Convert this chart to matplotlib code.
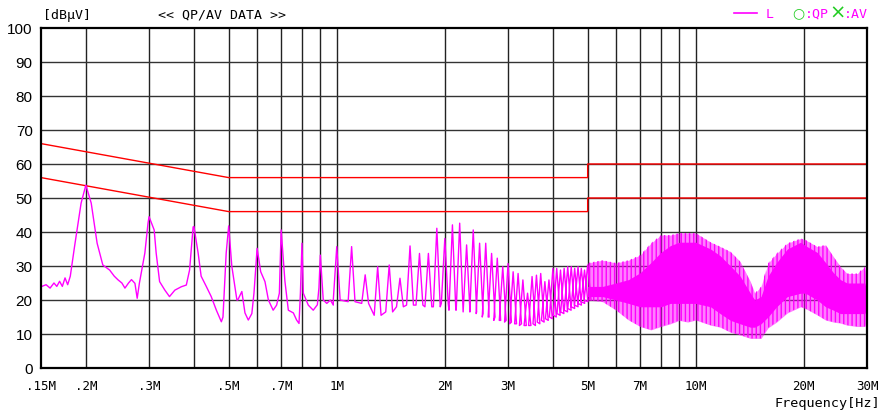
import matplotlib
matplotlib.use("Agg")
import numpy as np
import matplotlib.pyplot as plt
from matplotlib.lines import Line2D


# --- L trace below 1 MHz (MHz, dBuV) ---
lf_freq = [0.150, 0.155, 0.159, 0.163, 0.166, 0.169, 0.172, 0.175, 0.178, 0.181,
           0.186, 0.194, 0.200, 0.207, 0.215, 0.223, 0.233, 0.240, 0.246, 0.252,
           0.257, 0.263, 0.268, 0.274, 0.278, 0.282, 0.292, 0.298, 0.300, 0.310,
           0.314, 0.321, 0.332, 0.342, 0.354, 0.369, 0.381, 0.389, 0.398, 0.400,
           0.411, 0.419, 0.433, 0.447, 0.462, 0.477, 0.482, 0.492, 0.500, 0.510,
           0.520, 0.527, 0.530, 0.544, 0.555, 0.567, 0.580, 0.588, 0.600, 0.614,
           0.631, 0.645, 0.665, 0.680, 0.692, 0.700, 0.717, 0.733, 0.757, 0.773,
           0.785, 0.792, 0.800, 0.807, 0.833, 0.860, 0.883, 0.892, 0.900, 0.917,
           0.938, 0.960, 0.978]
lf_level = [23.9, 24.5, 23.5, 25.0, 24.0, 25.5, 24.0, 26.5, 24.5, 27.0,
            35.7, 48.5, 53.8, 48.5, 36.7, 30.3, 28.8, 27.0, 25.9, 25.0,
            23.5, 25.0, 26.0, 24.9, 20.5, 25.0, 33.8, 42.6, 44.5, 40.6,
            33.8, 25.4, 22.9, 21.0, 22.9, 23.9, 24.4, 28.8, 41.5, 41.6,
            33.8, 27.0, 24.0, 21.0, 17.0, 13.6, 15.0, 33.8, 41.8, 30.0,
            24.0, 20.0, 20.0, 22.5, 16.2, 14.1, 16.0, 22.0, 35.2, 28.3,
            25.4, 20.0, 17.0, 18.5, 22.0, 40.6, 25.6, 17.0, 16.2, 14.1,
            13.1, 22.0, 36.7, 22.0, 18.5, 17.0, 18.6, 23.6, 33.2, 20.0,
            19.0, 20.0, 18.5]

# --- harmonic spikes 1 MHz .. 5 MHz: peak and floor level per harmonic ---
spike_freq = [1.0, 1.1, 1.2, 1.3, 1.4, 1.5, 1.6, 1.7, 1.8, 1.9,
              2.0, 2.1, 2.2, 2.3, 2.4, 2.5, 2.6, 2.7, 2.8, 2.9,
              3.0, 3.1, 3.2, 3.3, 3.4, 3.5, 3.6, 3.7, 3.8, 3.9,
              4.0, 4.1, 4.2, 4.3, 4.4, 4.5, 4.6, 4.7, 4.8, 4.9, 5.0]
spike_peak = [35.7, 35.7, 27.4, 29.8, 30.3, 26.4, 35.9, 33.7, 33.7, 41.1,
              38.1, 42.1, 42.6, 36.2, 40.6, 36.7, 36.7, 33.7, 32.3, 29.8,
              30.7, 28.3, 27.8, 25.9, 22.0, 26.9, 27.3, 27.8, 25.4, 25.9,
              29.3, 29.3, 28.8, 29.3, 29.8, 29.8, 29.3, 29.8, 29.3, 28.8, 30.3]
spike_floor = [20.0, 19.5, 19.0, 15.5, 16.5, 18.0, 18.5, 18.5, 18.0, 18.0,
               19.0, 17.0, 17.0, 16.5, 16.5, 16.0, 15.0, 15.0, 14.0, 14.0,
               13.5, 13.0, 13.0, 12.5, 12.5, 12.5, 13.0, 13.5, 14.0, 14.5,
               15.0, 15.5, 16.0, 16.5, 17.0, 17.5, 18.0, 18.5, 19.0, 19.5, 20.0]

# --- dense part 5 MHz .. 30 MHz: outer envelope and solid core ---
env_freq = [5.0, 5.5, 6.0, 6.5, 7.0, 7.5, 8.0, 8.5, 9.0, 9.5, 10.0, 11.0,
            11.7, 12.5, 13.3, 14.2, 14.6, 15.2, 15.9, 16.8, 18.0, 19.6, 20.2,
            21.8, 23.0, 24.2, 25.3, 26.4, 28.2, 29.6, 30.0]
env_upper = [30.9, 31.7, 30.9, 31.7, 33.2, 36.7, 39.1, 39.1, 39.7, 39.7, 39.7, 37.0,
             35.7, 34.2, 31.3, 25.4, 22.0, 23.9, 30.8, 33.7, 36.7, 38.1, 37.7,
             35.7, 36.2, 32.7, 29.8, 27.8, 27.8, 29.8, 25.0]
env_lower = [20.0, 19.5, 17.0, 14.1, 12.2, 11.2, 12.2, 13.0, 14.0, 13.5, 14.1, 12.6,
             12.0, 10.5, 9.7, 8.7, 8.7, 8.7, 11.8, 13.5, 16.2, 18.0, 17.5,
             15.6, 14.1, 13.5, 13.2, 12.6, 12.2, 12.2, 14.0]
core_upper = [24, 24, 25, 26, 28, 31, 34, 36, 37, 37, 37, 35,
              33, 30, 27, 22, 20, 21, 27, 31, 35, 37, 36,
              34, 31, 28, 26, 25, 25, 25, 22]
core_lower = [21, 21, 20, 19, 18, 18, 18, 19, 19, 19, 19, 18,
              16, 14, 13, 12, 12, 13, 15, 18, 21, 22, 22,
              20, 18, 17, 16, 16, 16, 16, 18]

# limit lines (QP / AV)
lim_freq = [0.15, 0.5, 5.0, 5.0, 30.0]
qp_limit = [66, 56, 56, 60, 60]
av_limit = [56, 46, 46, 50, 50]

grid_freq = [0.2, 0.3, 0.4, 0.5, 0.6, 0.7, 0.8, 0.9, 1, 2, 3, 4, 5, 6, 7, 8, 9, 10, 20]
tick_freq = [0.15, 0.2, 0.3, 0.5, 0.7, 1, 2, 3, 5, 7, 10, 20, 30]
tick_text = [".15M", ".2M", ".3M", ".5M", ".7M", "1M", "2M", "3M", "5M", "7M", "10M", "20M", "30M"]

MAG = "#ff00ff"
GRN = "#22cc22"
MONO = "DejaVu Sans Mono"
plt.rcParams["hatch.linewidth"] = 1.0

W, H = 882, 415
fig = plt.figure(figsize=(W / 100, H / 100), dpi=100)
ax = fig.add_axes([41 / W, 1 - 368 / H, 826 / W, 340 / H])
ax.set_xscale("log")
ax.set_xlim(0.15, 30)
ax.set_ylim(0, 100)

# grid
for f in grid_freq:
    ax.axvline(f, color="#222222", lw=1.0, zorder=1)
for v in range(10, 100, 10):
    ax.axhline(v, color="#333333", lw=1.0, zorder=1)

# limits
ax.plot(lim_freq, qp_limit, color="red", lw=1.0, zorder=3)
ax.plot(lim_freq, av_limit, color="red", lw=1.0, zorder=3)

# trace: low part + spikes
xs = list(lf_freq)
ys = list(lf_level)
for f, p, fl in zip(spike_freq, spike_peak, spike_floor):
    hw = 0.022 * f
    xs += [f - hw, f, f + hw]
    ys += [fl, p, fl]
ax.plot(xs, ys, color=MAG, lw=1.0, zorder=4)

# dense part: striped outer band, solid core
ax.fill_between(env_freq, env_lower, env_upper, color=MAG, alpha=0.5, lw=0, zorder=4)
ax.fill_between(env_freq, env_lower, env_upper, facecolor="none", edgecolor=MAG,
                hatch="||||", lw=0, zorder=4)
ax.fill_between(env_freq, core_lower, core_upper, color=MAG, lw=0, zorder=4)

ax.set_xticks(tick_freq)
ax.set_xticklabels(tick_text, family=MONO, fontsize=9)
ax.xaxis.set_minor_locator(matplotlib.ticker.NullLocator())
ax.set_yticks(range(0, 101, 10))
ax.set_yticklabels([str(v) for v in range(0, 101, 10)], family="Liberation Sans", fontsize=11)
ax.tick_params(axis="both", length=0)
ax.tick_params(axis="x", pad=9)
ax.tick_params(axis="y", pad=6)
for s in ax.spines.values():
    s.set_linewidth(1.6)
    s.set_zorder(6)

# header / legend
fig.text(43 / W, 1 - 15 / H, "[dB\u00b5V]", family=MONO, fontsize=9.5, va="center", ha="left")
fig.text(158 / W, 1 - 15 / H, "<< QP/AV DATA >>", family=MONO, fontsize=9.5, va="center", ha="left")
fig.add_artist(Line2D([734 / W, 757 / W], [1 - 13 / H, 1 - 13 / H], color=MAG, lw=1.2, transform=fig.transFigure))
fig.text(766 / W, 1 - 14 / H, "L", family=MONO, fontsize=9.5, color=MAG, va="center", ha="left")
fig.text(792 / W, 1 - 13 / H, "\u25cb", family="DejaVu Sans", fontsize=10, color=GRN, va="center", ha="left")
fig.text(805 / W, 1 - 14 / H, ":QP", family=MONO, fontsize=9.5, color=MAG, va="center", ha="left")
fig.text(829 / W, 1 - 13 / H, "\u00d7", family="DejaVu Sans", fontsize=14, color=GRN, va="center", ha="left")
fig.text(844 / W, 1 - 14 / H, ":AV", family=MONO, fontsize=9.5, color=MAG, va="center", ha="left")
fig.text(880 / W, 1 - 403 / H, "Frequency[Hz]", family=MONO, fontsize=9.7, va="center", ha="right")

fig.savefig("out.png", dpi=100)
